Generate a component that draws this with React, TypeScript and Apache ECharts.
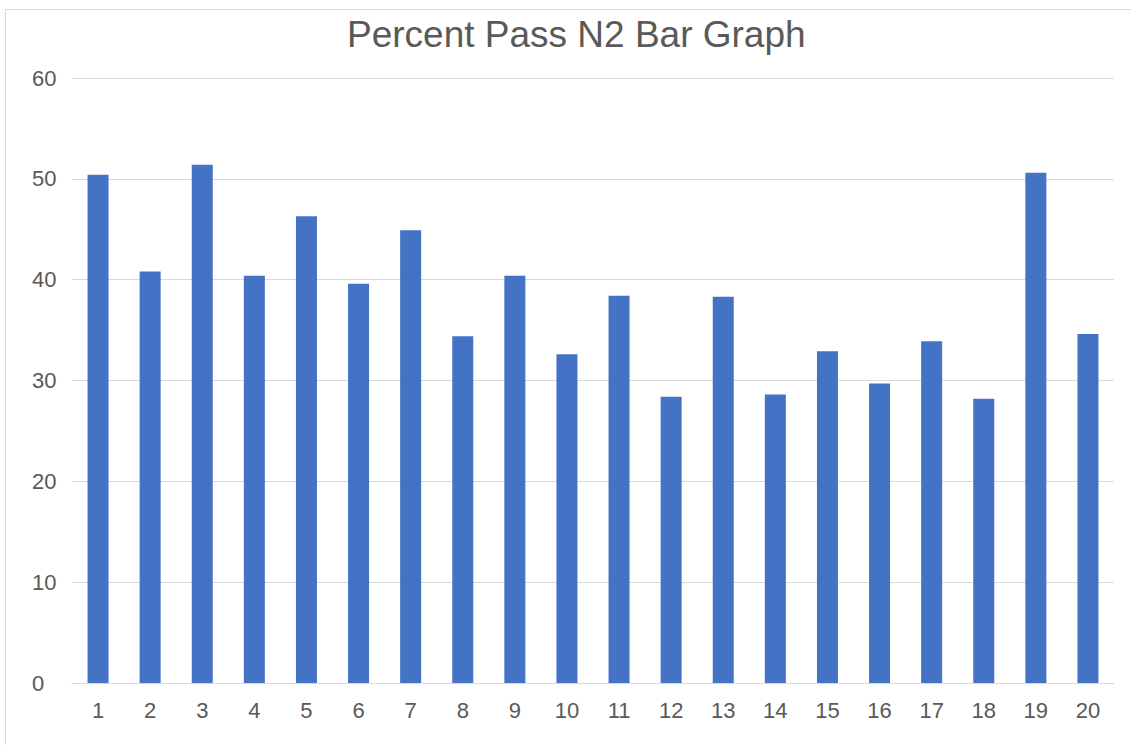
import React, { useEffect, useRef } from "react";
import * as echarts from "echarts";

const categories = ["1","2","3","4","5","6","7","8","9","10","11","12","13","14","15","16","17","18","19","20"];
const percentPass = [50.4, 40.8, 51.4, 40.4, 46.3, 39.6, 44.9, 34.4, 40.4, 32.6, 38.4, 28.4, 38.3, 28.6, 32.9, 29.7, 33.9, 28.2, 50.6, 34.6];
const yTicks = { min: 0, max: 60, interval: 10 };

export default function App() {
  const ref = useRef<HTMLDivElement>(null);
  useEffect(() => {
    if (!ref.current) return;
    const chart = echarts.init(ref.current, undefined, { renderer: "svg" });
    const font = "'Liberation Sans', Arial, sans-serif";
    chart.setOption({
      animation: false,
      backgroundColor: "#ffffff",
      title: {
        text: "Percent Pass N2 Bar Graph",
        left: 342,
        top: 11,
        textStyle: { fontFamily: font, fontSize: 37, fontWeight: "normal", color: "#595959" },
      },
      graphic: [
        { type: "line", shape: { x1: 5.5, y1: 9.5, x2: 1131, y2: 9.5 }, style: { stroke: "#d9d9d9", lineWidth: 1 } },
        { type: "line", shape: { x1: 5.5, y1: 9.5, x2: 5.5, y2: 745 }, style: { stroke: "#d9d9d9", lineWidth: 1 } },
      ],
      grid: { left: 72, right: 17, top: 78, bottom: 62, containLabel: false },
      xAxis: {
        type: "category",
        data: categories,
        axisTick: { show: false },
        axisLine: { lineStyle: { color: "#d9d9d9", width: 1 } },
        axisLabel: { fontFamily: font, fontSize: 22, color: "#595959", margin: 16, interval: 0 },
      },
      yAxis: {
        type: "value",
        min: yTicks.min,
        max: yTicks.max,
        interval: yTicks.interval,
        axisLine: { show: false },
        axisTick: { show: false },
        splitLine: { lineStyle: { color: "#d9d9d9", width: 1 } },
        axisLabel: { fontFamily: font, fontSize: 22, color: "#595959", margin: 40, align: "left" },
      },
      series: [
        {
          type: "bar",
          data: percentPass,
          barWidth: 21,
          itemStyle: { color: "#4472C4" },
        },
      ],
    });
    return () => chart.dispose();
  }, []);
  return <div ref={ref} style={{ position: "absolute", left: 0, top: 0, width: 1131, height: 745 }} />;
}
